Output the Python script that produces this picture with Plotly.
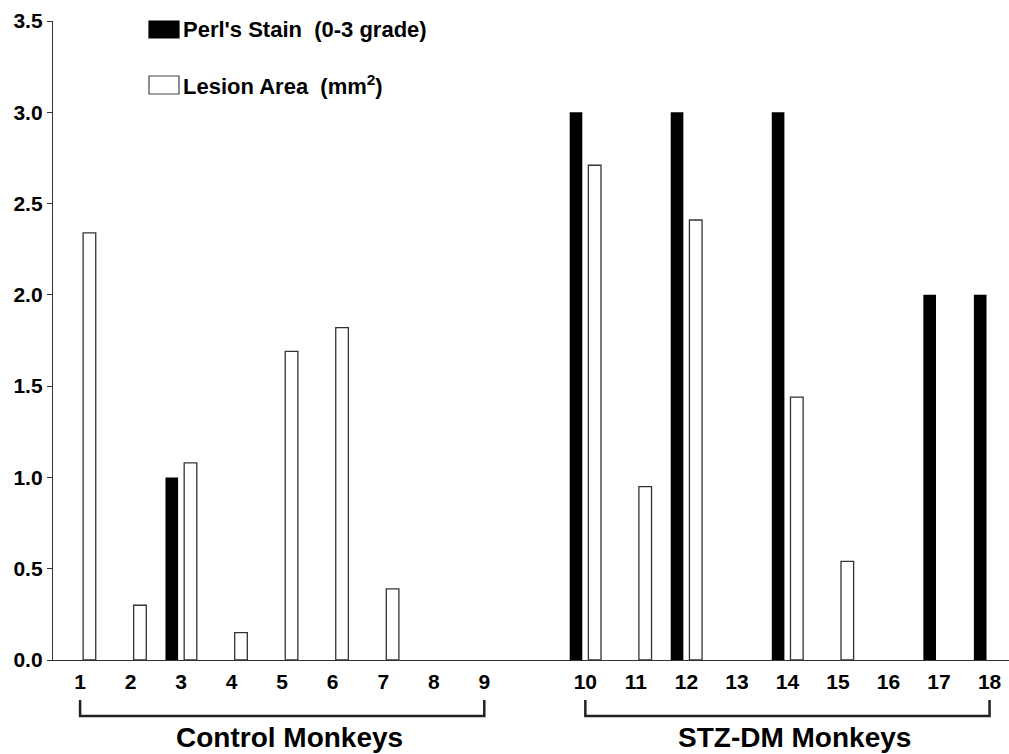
import plotly.graph_objects as go

# ---- data ----
monkeys = list(range(1, 19))
perls_stain = [None, None, 1, None, None, None, None, None, None,
               3, None, 3, None, 3, None, None, 2, 2]
lesion_area = [2.34, 0.30, 1.08, 0.15, 1.69, 1.82, 0.39, None, None,
               2.71, 0.95, 2.41, None, 1.44, 0.54, None, None, None]
group_names = ["Control Monkeys", "STZ-DM Monkeys"]
group_members = [list(range(1, 10)), list(range(10, 19))]
legend_labels = ["Perl's Stain\u00a0\u00a0(0-3 grade)", "Lesion Area\u00a0\u00a0(mm<sup>2</sup>)"]
y_ticks = [0, 0.5, 1.0, 1.5, 2.0, 2.5, 3.0, 3.5]

# slot positions: one empty slot between the two groups
slot = {m: (m if m <= 9 else m + 1) for m in monkeys}
xs = [slot[m] for m in monkeys]

FONT = "Liberation Sans, Arial, Helvetica, sans-serif"

fig = go.Figure()
fig.add_trace(go.Bar(
    x=xs, y=perls_stain, name=legend_labels[0],
    marker=dict(color="black", line=dict(width=0)),
    width=0.25, offset=-0.31, showlegend=False,
))
fig.add_trace(go.Bar(
    x=xs, y=lesion_area, name=legend_labels[1],
    marker=dict(color="white", line=dict(color="#333333", width=1.3)),
    width=0.25, offset=0.06, showlegend=False,
))

# plot-area geometry helpers (paper coords)
L, R, T, B = 53, 0, 21, 94
W, H = 1009, 754
pw, ph = W - L - R, H - T - B

def px(xpix):
    return (xpix - L) / pw

def py(ypix):
    return (H - B - ypix) / ph

shapes = []
annotations = []

# legend swatches + labels
sw = [("black", "black", 21, 38), ("white", "#444444", 76, 94)]
for (fill, line, y0, y1), lab in zip(sw, legend_labels):
    shapes.append(dict(type="rect", xref="paper", yref="paper",
                       x0=px(149), x1=px(179), y0=py(y1), y1=py(y0),
                       fillcolor=fill, line=dict(color=line, width=1.2)))
    annotations.append(dict(xref="paper", yref="paper", x=px(181), y=py((y0 + y1) / 2),
                            xanchor="left", yanchor="middle", showarrow=False,
                            text=lab, font=dict(family=FONT, size=22, color="black", weight="bold")))

# group brackets + labels
for name, mem in zip(group_names, group_members):
    a, b = slot[mem[0]], slot[mem[-1]]
    yt, yb = py(700), py(716)
    shapes.append(dict(type="path", xref="x", yref="paper",
                       path=f"M {a},{yt} L {a},{yb} L {b},{yb} L {b},{yt}",
                       line=dict(color="#222222", width=2.5)))
    annotations.append(dict(xref="x", yref="paper", x=(a + b) / 2, y=py(737), xshift=7,
                            xanchor="center", yanchor="middle", showarrow=False,
                            text=name, font=dict(family=FONT, size=28, color="black", weight="bold")))

fig.update_layout(
    width=W, height=H,
    margin=dict(l=L, r=R, t=T, b=B, pad=0, autoexpand=False),
    plot_bgcolor="white", paper_bgcolor="white",
    barmode="overlay",
    shapes=shapes, annotations=annotations,
    font=dict(family=FONT, color="black"),
    xaxis=dict(
        range=[0.464, 19.385], automargin=False,
        tickmode="array", tickvals=xs, ticktext=[str(m) for m in monkeys],
        showline=True, linecolor="#333333", linewidth=1.3,
        ticks="", showgrid=False, zeroline=False,
        tickfont=dict(family=FONT, size=21, color="black", weight="bold"),
        ticklabelstandoff=3,
    ),
    yaxis=dict(
        range=[0, 3.5], tickmode="array", tickvals=y_ticks, tickformat=".1f",
        automargin=False,
        showline=True, linecolor="#333333", linewidth=1.3,
        ticks="outside", ticklen=5, tickcolor="#333333", tickwidth=1.3,
        showgrid=False, zeroline=False,
        tickfont=dict(family=FONT, size=21, color="black", weight="bold"),
    ),
)

fig.write_html(
    "out.html",
    config={"displayModeBar": False},
    post_script="document.body.style.margin='0';document.body.style.overflow='hidden';",
)
